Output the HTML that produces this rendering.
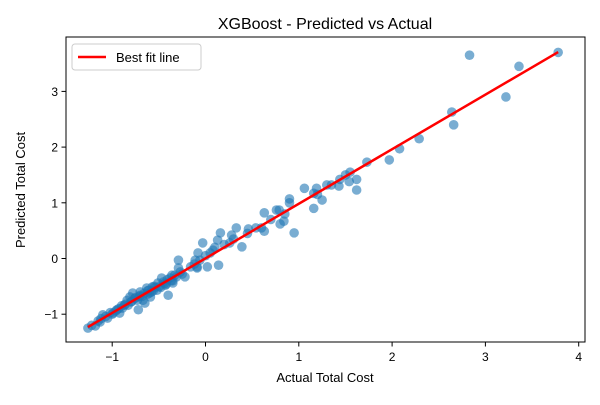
<!DOCTYPE html>
<html><head><meta charset="utf-8"><style>
body{margin:0;background:#fff;}
svg text{font-family:"Liberation Sans","DejaVu Sans",sans-serif;fill:#000;}
</style></head><body>
<svg id="chart" width="600" height="400" xmlns="http://www.w3.org/2000/svg">
<rect width="600" height="400" fill="#fff"/>
<text x="325" y="29" font-size="16" text-anchor="middle">XGBoost - Predicted vs Actual</text>
<g id="marks"></g>
<g id="axes"></g>
<rect x="66" y="37" width="519" height="305" fill="none" stroke="#000" stroke-width="1"/>
<text x="325" y="382" font-size="13" text-anchor="middle">Actual Total Cost</text>
<text transform="translate(25,190) rotate(-90)" font-size="13" text-anchor="middle">Predicted Total Cost</text>
<g>
<rect x="72" y="44" width="129" height="26" rx="3" fill="#fff" fill-opacity="0.8" stroke="#ccc"/>
<line x1="78" y1="57" x2="106" y2="57" stroke="#f00" stroke-width="2.5"/>
<text x="116" y="62" font-size="13">Best fit line</text>
</g>
</svg>
<script>
const actual = [3.78,2.83,3.36,3.22,2.64,2.66,2.29,2.08,1.97,1.73,1.62,1.62,1.55,1.54,1.44,1.43,1.35,1.30,1.25,1.16,1.16,1.19,1.06,0.90,0.90,0.95,0.79,0.76,0.84,0.80,0.63,0.63,0.54,0.46,0.39,0.33,0.28,0.26,0.16,0.13,0.08,0.14,0.02,-0.03,-0.06,-0.09,
-1.26,-1.18,-1.13,-1.10,-1.05,-0.99,-0.92,-0.89,-0.83,-0.81,-0.78,-0.73,-0.72,-0.67,-0.63,-0.59,-0.57,-0.52,-0.47,-0.43,-0.40,-0.35,-0.31,-0.29,-0.29,-0.22,-0.11,-0.09,-0.08,-0.84,-0.95,-0.70,-0.51,-0.65,
-1.0,-0.9,-0.8,-0.75,-0.6,-0.55,-0.45,-0.38,-0.35,-1.15,-0.68,-0.62,0.0,0.05,0.1,0.2,0.3,0.45,0.6,0.7,1.2,1.5,0.85,
-1.22,-1.12,-1.07,-1.02,-0.96,-0.93,-0.87,-0.86,-0.79,-0.76,-0.71,-0.66,-0.61,-0.58,-0.54,-0.49,-0.44,-0.41,-0.37,-0.33,-0.27,-0.25,-0.70,-0.62,-0.56,-0.48,-0.42,-0.36,-0.16,-0.12];
const predicted = [3.70,3.65,3.45,2.90,2.63,2.40,2.15,1.97,1.77,1.73,1.42,1.23,1.55,1.38,1.42,1.30,1.32,1.32,1.05,1.17,0.90,1.26,1.26,1.07,1.00,0.46,0.87,0.87,0.67,0.62,0.82,0.49,0.55,0.53,0.21,0.55,0.42,0.28,0.46,0.33,0.15,-0.12,-0.15,0.28,-0.03,-0.17,
-1.25,-1.21,-1.14,-1.01,-1.07,-0.98,-0.98,-0.89,-0.84,-0.69,-0.62,-0.75,-0.92,-0.75,-0.53,-0.69,-0.51,-0.57,-0.35,-0.48,-0.66,-0.44,-0.33,-0.17,-0.03,-0.33,-0.03,-0.15,0.10,-0.75,-0.92,-0.60,-0.44,-0.80,
-1.0,-0.85,-0.78,-0.7,-0.62,-0.5,-0.42,-0.35,-0.4,-1.12,-0.68,-0.58,0.05,0.1,0.2,0.25,0.35,0.45,0.55,0.7,1.15,1.5,0.8,
-1.2,-1.08,-1.04,-0.97,-0.94,-0.90,-0.84,-0.82,-0.77,-0.72,-0.68,-0.63,-0.57,-0.60,-0.52,-0.50,-0.45,-0.38,-0.40,-0.30,-0.24,-0.28,-0.66,-0.64,-0.58,-0.52,-0.46,-0.30,-0.15,-0.10];
const xTicks = [-1,0,1,2,3,4];
const yTicks = [-1,0,1,2,3];

const X0=205.5, XS=93.3, Y0=258.5, YS=55.7;
const xs = v => X0 + v*XS;
const ys = v => Y0 - v*YS;
const NS="http://www.w3.org/2000/svg";
const marks=document.getElementById('marks'), axes=document.getElementById('axes');
function mk(t,a,p){const e=document.createElementNS(NS,t);for(const k in a)e.setAttribute(k,a[k]);p.appendChild(e);return e;}
const lab = v => v<0 ? '\u2212'+Math.abs(v) : ''+v;

xTicks.forEach(t=>{
  const l=mk('line',{x1:xs(t),x2:xs(t),y1:342,y2:346.5,stroke:'#000'},axes);
  
  
  const tx=mk('text',{x:xs(t),y:361,'font-size':12,'text-anchor':'middle'},axes);
  tx.textContent=lab(t);
  
  
});
yTicks.forEach(t=>{
  const l=mk('line',{x1:61.5,x2:66,y1:ys(t),y2:ys(t),stroke:'#000'},axes);
  
  
  const tx=mk('text',{x:58,y:ys(t)+4.5,'font-size':12,'text-anchor':'end'},axes);
  tx.textContent=lab(t);
  
  
});

actual.forEach((a,i)=>{
  const c=mk('circle',{cx:xs(a),cy:ys(predicted[i]),r:4.8,fill:'#1f77b4','fill-opacity':0.6},marks);
  
  
});

// least-squares fit
const n=actual.length;
const mx=actual.reduce((s,v)=>s+v,0)/n, my=predicted.reduce((s,v)=>s+v,0)/n;
let sxy=0,sxx=0;
for(let i=0;i<n;i++){sxy+=(actual[i]-mx)*(predicted[i]-my);sxx+=(actual[i]-mx)**2;}
const slope=sxy/sxx, icpt=my-slope*mx;
const xmin=Math.min(...actual), xmax=Math.max(...actual);
const fl=mk('line',{x1:xs(xmin),y1:ys(slope*xmin+icpt),x2:xs(xmax),y2:ys(slope*xmax+icpt),stroke:'#f00','stroke-width':2.5},marks);


</script>
</body></html>
